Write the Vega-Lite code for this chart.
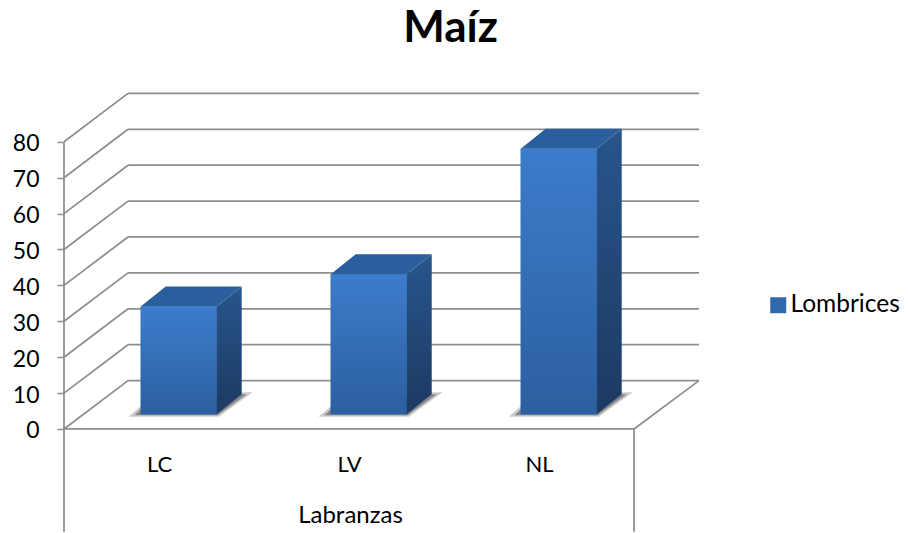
{
"$schema":"https://vega.github.io/schema/vega-lite/v6.json",
"width":635,"height":440,
"autosize":{"type":"none"},
"padding":{"left":64,"top":93,"right":209,"bottom":0},
"background":"white",
"view":{"stroke":null},
"config":{"axis":{"grid":false,"title":null}},
"title":{"text":"Maíz","font":"Lato","fontSize":44,"fontWeight":"bold","color":"#000000","anchor":"middle","dx":69,"offset":42},
"datasets":{
"bars":[{"cat":"LC","value":30},{"cat":"LV","value":39},{"cat":"NL","value":74}],
"grid":[{"v":0},{"v":10},{"v":20},{"v":30},{"v":40},{"v":50},{"v":60},{"v":70},{"v":80}],
"one":[{"k":1}]
},
"layer":[
{"data":{"name":"grid"},"transform":[{"calculate":"datum.v+13.48","as":"vb"}],
 "mark":{"type":"rule","color":"#8e8e8e","strokeWidth":1.75},
 "encoding":{
  "x":{"datum":0,"type":"quantitative","scale":{"domain":[0,3.342],"nice":false,"zero":false},
   "axis":{"values":[0.5,1.5,2.5],"labelExpr":"['LC','LV','NL'][floor(datum.value)]","title":"Labranzas","orient":"bottom","offset":-79,"domain":false,"ticks":false,"grid":false,"labelFont":"Lato","labelFontSize":22,"labelColor":"#000000","labelPadding":0,"titleFont":"Lato","titleFontSize":24,"titleFontWeight":"normal","titleColor":"#000000","titlePadding":28,"titleX":286}},
  "x2":{"datum":0.3368},
  "y":{"field":"v","type":"quantitative","scale":{"domain":[-28.97,93.59],"nice":false,"zero":false},
   "axis":{"values":[0,10,20,30,40,50,60,70,80],"title":null,"domain":false,"grid":false,"tickSize":7,"tickColor":"#8e8e8e","tickWidth":1.5,"labelFont":"Lato","labelFontSize":23,"labelColor":"#000000","labelPadding":18,"labelOffset":2}},
  "y2":{"field":"vb"}}},
{"data":{"name":"grid"},"transform":[{"calculate":"datum.v+13.48","as":"vb"}],
 "mark":{"type":"rule","color":"#8e8e8e","strokeWidth":1.75},
 "encoding":{
  "x":{"datum":0.3368,"type":"quantitative","scale":{"domain":[0,3.342],"nice":false,"zero":false}},
  "x2":{"datum":3.342},
  "y":{"field":"vb","type":"quantitative","scale":{"domain":[-28.97,93.59],"nice":false,"zero":false}}}},
{"data":{"name":"one"},
 "mark":{"type":"rule","color":"#8e8e8e","strokeWidth":1.75},
 "encoding":{
  "x":{"datum":0,"type":"quantitative","scale":{"domain":[0,3.342],"nice":false,"zero":false}},
  "y":{"datum":80,"type":"quantitative","scale":{"domain":[-28.97,93.59],"nice":false,"zero":false}},
  "y2":{"datum":-28.6}}},
{"data":{"name":"one"},
 "mark":{"type":"rule","color":"#8e8e8e","strokeWidth":1.75},
 "encoding":{
  "x":{"datum":3,"type":"quantitative","scale":{"domain":[0,3.342],"nice":false,"zero":false}},
  "y":{"datum":0,"type":"quantitative","scale":{"domain":[-28.97,93.59],"nice":false,"zero":false}},
  "y2":{"datum":-28.6}}},
{"data":{"name":"one"},
 "mark":{"type":"rule","color":"#8e8e8e","strokeWidth":1.75},
 "encoding":{
  "x":{"datum":0,"type":"quantitative","scale":{"domain":[0,3.342],"nice":false,"zero":false}},
  "x2":{"datum":3},
  "y":{"datum":0,"type":"quantitative","scale":{"domain":[-28.97,93.59],"nice":false,"zero":false}}}},
{"data":{"name":"one"},
 "mark":{"type":"rule","color":"#8e8e8e","strokeWidth":1.75},
 "encoding":{
  "x":{"datum":3,"type":"quantitative","scale":{"domain":[0,3.342],"nice":false,"zero":false}},
  "x2":{"datum":3.342},
  "y":{"datum":0,"type":"quantitative","scale":{"domain":[-28.97,93.59],"nice":false,"zero":false}},
  "y2":{"datum":13.48}}},
{"data":{"name":"bars"},"transform":[{"calculate":"indexof(['LC','LV','NL'],datum.cat)+0.4037","as":"x0"}],
 "mark":{"type":"point","filled":true,"size":4,"opacity":0.55,"color":"#a0a0a0","yOffset":-14.7,
  "shape":"M-12,2.5 L78,2.5 L112,-22 L96,-22 L0,-8 Z"},
 "encoding":{
  "x":{"field":"x0","type":"quantitative","scale":{"domain":[0,3.342],"nice":false,"zero":false}},
  "y":{"datum":0,"type":"quantitative","scale":{"domain":[-28.97,93.59],"nice":false,"zero":false}}}},
{"data":{"name":"bars"},"transform":[{"calculate":"indexof(['LC','LV','NL'],datum.cat)+0.4037","as":"x0"}],
 "mark":{"type":"point","filled":true,"size":4,"opacity":0.9,"color":"#808080","yOffset":-14.7,
  "shape":"M-6,1 L77,1 L106,-20 L90,-20 L0,-5 Z"},
 "encoding":{
  "x":{"field":"x0","type":"quantitative","scale":{"domain":[0,3.342],"nice":false,"zero":false}},
  "y":{"datum":0,"type":"quantitative","scale":{"domain":[-28.97,93.59],"nice":false,"zero":false}}}},
{"data":{"name":"bars"},"transform":[{"calculate":"indexof(['LC','LV','NL'],datum.cat)+0.4037","as":"x0"},{"calculate":"datum.x0+0.4","as":"x1"}],
 "mark":{"type":"bar","yOffset":-14.7,"y2Offset":-14.7},
 "encoding":{
  "x":{"field":"x0","type":"quantitative","scale":{"domain":[0,3.342],"nice":false,"zero":false}},
  "x2":{"field":"x1"},
  "y":{"field":"value","type":"quantitative","scale":{"domain":[-28.97,93.59],"nice":false,"zero":false}},
  "y2":{"datum":0},
  "color":{"datum":"Lombrices","type":"nominal","scale":{"domain":["Lombrices"],"range":["#3269ad"]},
   "legend":{"title":null,"orient":"none","legendX":702,"legendY":200,"symbolType":"square","symbolSize":256,"symbolStrokeWidth":0,"labelFont":"Lato","labelFontSize":24.5,"labelColor":"#000000","labelOffset":0}}}},
{"data":{"name":"bars"},"transform":[{"calculate":"indexof(['LC','LV','NL'],datum.cat)+0.4037","as":"x0"},{"calculate":"datum.x0+0.4","as":"x1"}],
 "mark":{"type":"bar","yOffset":-14.7,"y2Offset":-14.7,
  "fill":{"gradient":"linear","x1":0,"y1":0,"x2":0,"y2":1,"stops":[{"offset":0,"color":"#3c7ccc"},{"offset":1,"color":"#2c5f9f"}]}},
 "encoding":{
  "x":{"field":"x0","type":"quantitative","scale":{"domain":[0,3.342],"nice":false,"zero":false}},
  "x2":{"field":"x1"},
  "y":{"field":"value","type":"quantitative","scale":{"domain":[-28.97,93.59],"nice":false,"zero":false}},
  "y2":{"datum":0}}},
{"data":{"name":"bars"},"transform":[{"calculate":"[0,1]","as":"d"},{"flatten":["d"]},
  {"calculate":"indexof(['LC','LV','NL'],datum.cat)+0.8037+datum.d*0.1316","as":"xs"},
  {"calculate":"datum.value+datum.d*5.57","as":"yt"},
  {"calculate":"datum.d*5.57","as":"yb"}],
 "mark":{"type":"area","yOffset":-14.7,"y2Offset":-14.7,"opacity":1,
  "fill":{"gradient":"linear","x1":0,"y1":0,"x2":0,"y2":1,"stops":[{"offset":0,"color":"#28558c"},{"offset":1,"color":"#1c3a63"}]}},
 "encoding":{
  "x":{"field":"xs","type":"quantitative","scale":{"domain":[0,3.342],"nice":false,"zero":false}},
  "y":{"field":"yt","type":"quantitative","scale":{"domain":[-28.97,93.59],"nice":false,"zero":false}},
  "y2":{"field":"yb"},
  "detail":{"field":"cat"}}},
{"data":{"name":"bars"},"transform":[{"calculate":"indexof(['LC','LV','NL'],datum.cat)+0.4037","as":"x0"}],
 "mark":{"type":"point","filled":true,"size":4,"opacity":1,"color":"#2b5e9c","yOffset":-14.7,
  "shape":"M0,0 L76,0 L101,-20 L25,-20 Z"},
 "encoding":{
  "x":{"field":"x0","type":"quantitative","scale":{"domain":[0,3.342],"nice":false,"zero":false}},
  "y":{"field":"value","type":"quantitative","scale":{"domain":[-28.97,93.59],"nice":false,"zero":false}}}}
]
}
